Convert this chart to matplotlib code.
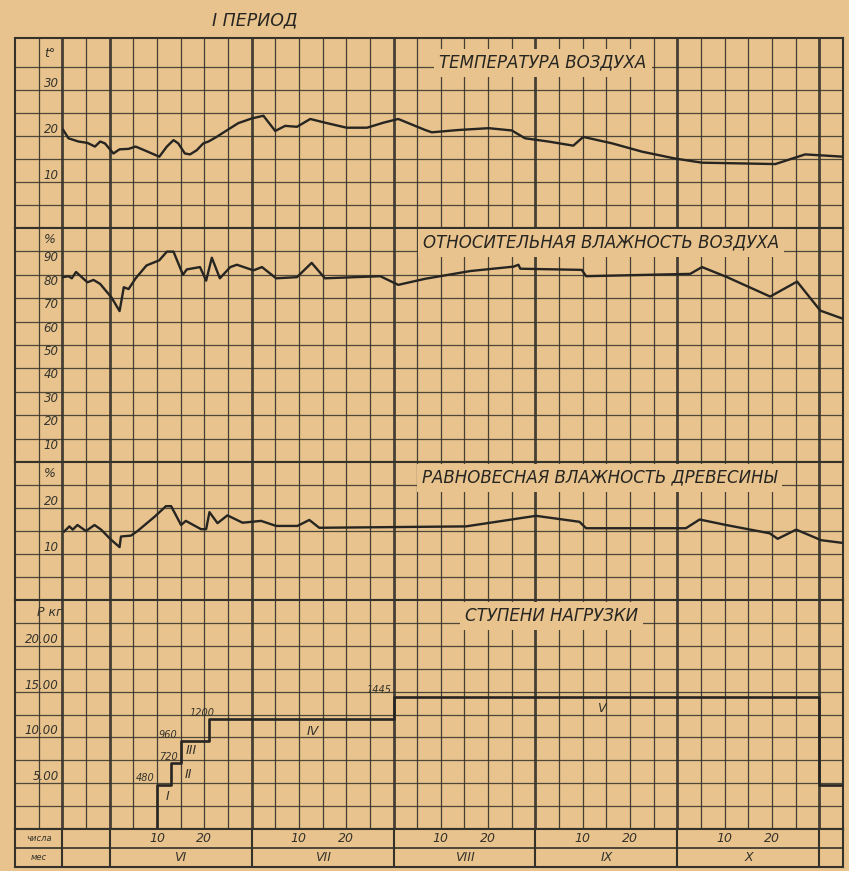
import numpy as np
import matplotlib
matplotlib.use("Agg")
import matplotlib.pyplot as plt

# days counted from 1 June; one grid cell = 5 days, a month = 30 days
temp_day = [-9.8, -8.7, -6.6, -4.7, -3.1, -2.0, -1.0, 0.8, 2.1, 4.0, 5.5, 7.8, 10.5, 12.1,
            13.5, 14.5, 15.9, 17.0, 18.4, 19.8, 20.9, 22.6, 25.5, 27.2, 30.0, 32.5, 35.0,
            37.1, 39.6, 42.4, 45.5, 50.1, 54.4, 57.9, 61.0, 66.7, 68.1, 73.7, 80.1, 85.0,
            87.8, 92.7, 98.0, 100.1, 106.2, 112.5, 119.5, 125.2, 140.7, 147.0, 155.0]
temp_val = [21.3, 19.5, 18.8, 18.5, 17.7, 18.8, 18.4, 16.2, 17.1, 17.2, 17.7, 16.7, 15.5, 17.7,
            19.1, 18.4, 16.2, 16.0, 16.9, 18.4, 18.8, 19.8, 21.7, 22.8, 23.8, 24.4, 21.1,
            22.2, 22.0, 23.7, 22.9, 21.8, 21.8, 22.9, 23.7, 21.3, 20.8, 21.3, 21.7, 21.2,
            19.5, 18.8, 17.9, 19.8, 18.4, 16.6, 15.1, 14.2, 13.9, 16.0, 15.5]

rh_day = [-9.8, -8.7, -8.0, -7.1, -4.7, -3.4, -2.0, 0.4, 2.1, 3.0, 4.0, 5.5, 7.8, 10.5, 12.1,
          13.5, 15.5, 16.3, 19.1, 20.4, 21.6, 23.3, 25.5, 26.9, 30.4, 32.2, 35.2, 39.6, 42.7,
          45.5, 57.2, 61.0, 66.7, 76.2, 82.5, 85.4, 86.4, 86.8, 99.8, 100.7, 122.7, 125.2,
          130.5, 139.6, 145.3, 150.2, 155.0]
rh_val = [79.0, 79.4, 78.5, 81.2, 76.8, 77.8, 76.1, 70.3, 64.5, 74.7, 73.9, 78.5, 84.0, 86.2,
          89.9, 89.9, 80.0, 82.3, 83.3, 77.5, 87.3, 78.5, 83.3, 84.3, 81.9, 83.3, 78.5, 79.0,
          85.1, 78.5, 79.4, 75.7, 78.3, 81.6, 82.9, 83.5, 84.3, 82.6, 82.1, 79.4, 80.4, 83.3,
          79.0, 70.7, 77.1, 64.7, 61.2]

emc_day = [-9.6, -8.5, -7.8, -6.8, -5.0, -3.2, -1.8, 0.3, 2.1, 2.4, 4.5, 5.9, 9.5, 11.9, 13.0,
           15.1, 16.1, 19.3, 20.4, 21.1, 22.8, 24.9, 28.1, 32.0, 35.2, 39.7, 42.2, 44.3, 75.3,
           90.1, 99.3, 100.7, 121.8, 124.7, 130.3, 139.5, 141.2, 145.1, 150.4, 155.0]
emc_val = [14.9, 16.0, 15.3, 16.3, 15.0, 16.3, 15.3, 13.1, 11.5, 13.8, 14.0, 15.0, 18.1, 20.4,
           20.4, 16.3, 17.2, 15.4, 15.4, 19.1, 16.7, 18.4, 16.8, 17.2, 16.1, 16.1, 17.4, 15.7,
           16.0, 18.3, 17.0, 15.6, 15.6, 17.5, 16.3, 14.5, 13.3, 15.3, 13.0, 12.4]

load_day = [10, 10, 13, 15, 21, 60, 150, 155]
load_val = [0, 480, 720, 960, 1200, 1445, 480, 480]
load_text = ["480", "720", "960", "1200", "1445"]
stage_names = ["I", "II", "III", "IV", "V"]

months = ["VI", "VII", "VIII", "IX", "X"]
day_marks = ["10", "20"]

temp_ticks = [10, 20, 30]
rh_ticks = [10, 20, 30, 40, 50, 60, 70, 80, 90]
emc_ticks = [10, 20]
load_ticks = [500, 1000, 1500, 2000]
load_tick_labels = ["5.00", "10.00", "15.00", "20.00"]

PAPER = "#e8c38d"
INK = "#34322b"
PEN = "#262521"
W, H = 849, 871
X0, X1 = -20, 155
HEAVY = (-10, 0, 30, 60, 90, 120, 150)

fig = plt.figure(figsize=(W / 100, H / 100), dpi=100, facecolor=PAPER)


def add_panel(top, bottom):
    ax = fig.add_axes([15 / W, 1 - bottom / H, 828 / W, (bottom - top) / H])
    ax.set_facecolor(PAPER)
    ax.set_xlim(X0, X1)
    ax.set_xticks([])
    ax.set_yticks([])
    for s in ax.spines.values():
        s.set_color(INK)
        s.set_linewidth(1.5)
    return ax


def paper_grid(ax, ystep, ymax):
    ax.set_ylim(0, ymax)
    for d in np.arange(-15, 151, 5):
        heavy = d in HEAVY
        ax.axvline(d, color=INK, lw=2.0 if heavy else 0.9, alpha=0.9, zorder=1)
    for v in np.arange(ystep, ymax - ystep * 0.5, ystep):
        ax.axhline(v, color=INK, lw=0.9, alpha=0.85, zorder=1)


def axis_labels(ax, ticks, labels, unit, unit_y):
    for t, s in zip(ticks, labels):
        ax.text(-10.8, t, s, ha="right", va="bottom", fontsize=8.5, style="italic",
                color=INK, zorder=3)
    ax.text(-12.6, unit_y, unit, ha="center", va="center", fontsize=9, style="italic",
            color=INK, zorder=3)


def panel_title(ax, x, y, s):
    ax.text(x, y, s, ha="center", va="center", fontsize=12, style="italic", color=PEN,
            zorder=4, bbox=dict(boxstyle="square,pad=0.3", fc=PAPER, ec="none"))


# temperature
ax_t = add_panel(38, 228)
paper_grid(ax_t, 5, 41.3)
ax_t.plot(temp_day, temp_val, color=PEN, lw=1.7, zorder=5)
axis_labels(ax_t, temp_ticks, [str(v) for v in temp_ticks], "t°", 38)
panel_title(ax_t, 91.6, 35.9, "ТЕМПЕРАТУРА ВОЗДУХА")

# relative humidity of air
ax_h = add_panel(228, 462)
paper_grid(ax_h, 10, 100)
ax_h.plot(rh_day, rh_val, color=PEN, lw=1.7, zorder=5)
for t in rh_ticks:
    ax_h.text(-10.8, t, str(t), ha="right", va="top", fontsize=8.5, style="italic",
              color=INK, zorder=3)
ax_h.text(-12.6, 95, "%", ha="center", va="center", fontsize=9, style="italic", color=INK)
panel_title(ax_h, 103.9, 93.8, "ОТНОСИТЕЛЬНАЯ ВЛАЖНОСТЬ ВОЗДУХА")

# equilibrium moisture content of wood
ax_e = add_panel(462, 600)
paper_grid(ax_e, 5, 30)
ax_e.plot(emc_day, emc_val, color=PEN, lw=1.7, zorder=5)
axis_labels(ax_e, emc_ticks, [str(v) for v in emc_ticks], "%", 27.6)
panel_title(ax_e, 103.5, 26.6, "РАВНОВЕСНАЯ ВЛАЖНОСТЬ ДРЕВЕСИНЫ")

# load steps
ax_p = add_panel(600, 829)
paper_grid(ax_p, 250, 2500)
ax_p.plot(load_day, load_val, color=PEN, lw=1.9, drawstyle="steps-post", zorder=5)
axis_labels(ax_p, load_ticks, load_tick_labels, "Р кг", 2360)
panel_title(ax_p, 93.3, 2330, "СТУПЕНИ НАГРУЗКИ")

# value and stage labels next to the steps
val_pos = [(9.6, 500, "right"), (14.4, 735, "right"), (14.4, 975, "right"),
           (19.5, 1215, "center"), (57.0, 1465, "center")]
for (x, y, ha), s in zip(val_pos, load_text):
    ax_p.text(x, y, s, ha=ha, va="bottom", fontsize=7, style="italic", color=INK, zorder=6)
stage_pos = [(12.2, 350), (16.7, 590), (17.3, 860), (43.0, 1060), (103.9, 1320)]
for (x, y), s in zip(stage_pos, stage_names):
    ax_p.text(x, y, s, ha="center", va="center", fontsize=9, style="italic", color=INK,
              zorder=6)

# bottom table: days and months
ax_m = add_panel(829, 867)
ax_m.set_ylim(0, 2)
ax_m.axhline(1, color=INK, lw=1.2)
for d in HEAVY:
    ax_m.axvline(d, color=INK, lw=1.5)
ax_m.text(-15, 1.5, "числа", ha="center", va="center", fontsize=6, style="italic", color=INK)
ax_m.text(-15, 0.5, "мес", ha="center", va="center", fontsize=6, style="italic", color=INK)
for i, m in enumerate(months):
    start = 30 * i
    for s in day_marks:
        ax_m.text(start + int(s), 1.5, s, ha="center", va="center", fontsize=9,
                  style="italic", color=INK)
    ax_m.text(start + 15, 0.5, m, ha="center", va="center", fontsize=9, style="italic",
              color=INK)

fig.text(255 / W, 1 - 20 / H, "I ПЕРИОД", ha="center", va="center", fontsize=12.5,
         style="italic", color=PEN)

fig.savefig("out.png", dpi=100, facecolor=PAPER)
